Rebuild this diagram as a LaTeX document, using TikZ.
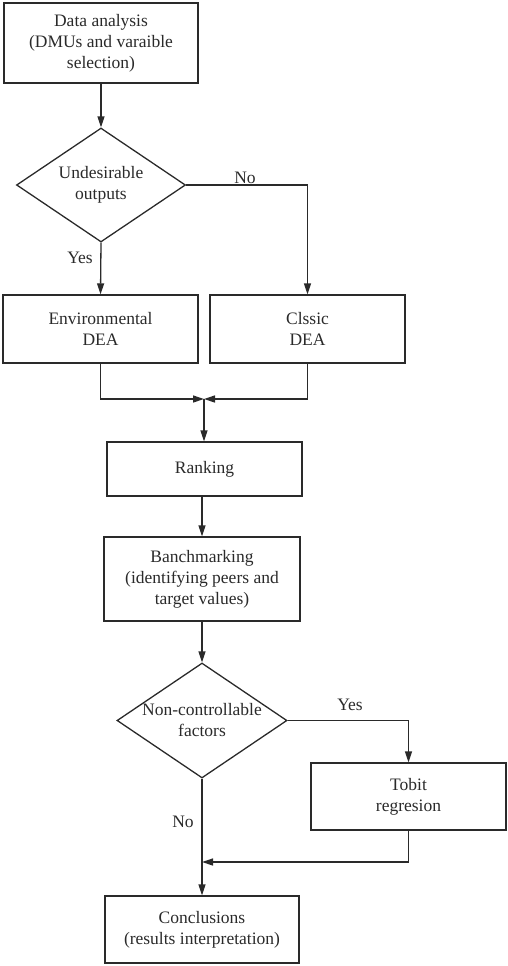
\documentclass[tikz,border=0pt]{standalone}
\usepackage{fontspec}
\setmainfont{Liberation Serif}
\usetikzlibrary{shapes.geometric,arrows.meta}
\definecolor{ink}{HTML}{2A2A2A}
\begin{document}
\begin{tikzpicture}[x=1pt,y=-1pt,
  every node/.style={font=\rmfamily\fontsize{17.5}{21}\selectfont, text=ink},
  box/.style={draw=ink, line width=1.3pt, align=center, inner sep=0pt},
  dec/.style={draw=ink, line width=1.3pt, diamond, inner sep=0pt},
  conn/.style={draw=ink, line width=1.3pt},
  arr/.style={conn, -{Triangle[length=11pt,width=7pt]}},
  lbl/.style={inner sep=0pt, align=center}]
\useasboundingbox (0,0) rectangle (507,966);
\node[box, minimum width=194pt, minimum height=80pt] (data) at (101,43) {Data analysis\\(DMUs and varaible\\selection)};
\node[dec, minimum width=169pt, minimum height=114pt] (d1) at (101,185) {};
\node[lbl] (d1t) at (d1.center) {Undesirable\\outputs};
\node[box, minimum width=195pt, minimum height=68pt] (env) at (100.5,329) {Environmental\\DEA};
\node[box, minimum width=195pt, minimum height=68pt] (cls) at (307.5,329) {Clssic\\DEA};
\coordinate (m) at (204,399);
\node[box, minimum width=195pt, minimum height=54pt] (rank) at (204.5,469) {Ranking};
\node[box, minimum width=196pt, minimum height=84pt] (bench) at (202,579) {Banchmarking\\(identifying peers and\\target values)};
\node[dec, minimum width=170pt, minimum height=115pt] (d2) at (202,720.5) {};
\node[lbl] (d2t) at (d2.center) {Non-controllable\\factors};
\node[box, minimum width=195pt, minimum height=67pt] (tobit) at (408.5,796.5) {Tobit\\regresion};
\coordinate (j) at (202,862);
\node[box, minimum width=194pt, minimum height=67pt] (concl) at (202,929.5) {Conclusions\\(results interpretation)};

\draw[arr] (data.south) -- (d1.north);
\draw[arr] (d1.south) -- (env.north);
\draw[arr] (d1.east) -| (cls.north);
\draw[arr] (env.south) |- (m);
\draw[arr] (cls.south) |- (m);
\draw[arr] (m) -- (rank.north -| m);
\draw[arr] (rank.south -| bench.north) -- (bench.north);
\draw[arr] (bench.south) -- (d2.north);
\draw[arr] (d2.east) -| (tobit.north);
\draw[arr] (tobit.south) |- (j);
\draw[arr] (d2.south) -- (concl.north);

\node[lbl] (no1) at (245,178) {No};
\node[lbl] (yes1) at (80,258) {Yes};
\node[lbl] (yes2) at (350,705) {Yes};
\node[lbl] (no2) at (183,822) {No};
\end{tikzpicture}
\end{document}
